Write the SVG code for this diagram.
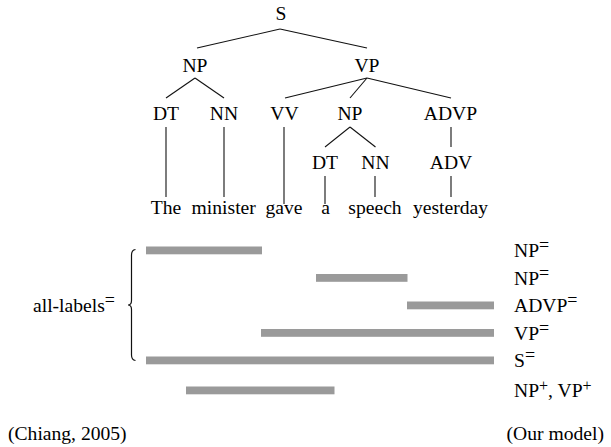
<svg xmlns="http://www.w3.org/2000/svg" width="611" height="447" viewBox="0 0 611 447" font-family="'Liberation Serif', 'Times New Roman', Times, 'DejaVu Serif', serif">
<style>
text{font-family:'Liberation Serif','Times New Roman',Times,serif;font-size:19.6px;fill:#000}
.c{text-anchor:middle}
.sup{font-size:18px}
.sp{font-size:16px}
#connectors line{stroke:#111;stroke-width:1.1}
.bar{fill:#9a9a9a}
.brace{fill:none;stroke:#111;stroke-width:1.2}
</style>
<rect width="611" height="447" fill="#fff"/>
<g id="connectors">
<line x1="280" y1="29" x2="197" y2="48"/>
<line x1="280" y1="29" x2="367" y2="48"/>
<line x1="195" y1="78" x2="166" y2="98"/>
<line x1="195" y1="78" x2="224" y2="98"/>
<line x1="367" y1="78" x2="285" y2="98"/>
<line x1="367" y1="78" x2="350" y2="98"/>
<line x1="367" y1="78" x2="451" y2="98"/>
<line x1="166" y1="127" x2="166" y2="197"/>
<line x1="224" y1="127" x2="224" y2="197"/>
<line x1="284" y1="127" x2="284" y2="204"/>
<line x1="350" y1="127" x2="325" y2="147"/>
<line x1="350" y1="127" x2="375.5" y2="147"/>
<line x1="451" y1="127" x2="451" y2="147"/>
<line x1="325" y1="176" x2="325" y2="204"/>
<line x1="375" y1="176" x2="375" y2="197"/>
<line x1="451" y1="176" x2="451" y2="197"/>
</g>
<g id="S"><text class="c" x="281" y="20">S</text></g>
<g id="NP1"><text class="c" x="195" y="72">NP</text></g>
<g id="VP"><text class="c" x="367" y="72">VP</text></g>
<g id="DT1"><text class="c" x="166" y="120">DT</text></g>
<g id="NN1"><text class="c" x="224" y="120">NN</text></g>
<g id="VV"><text class="c" x="284.5" y="120">VV</text></g>
<g id="NP2"><text class="c" x="350" y="120">NP</text></g>
<g id="ADVP"><text class="c" x="450.5" y="120">ADVP</text></g>
<g id="DT2"><text class="c" x="325" y="169">DT</text></g>
<g id="NN2"><text class="c" x="375.5" y="169">NN</text></g>
<g id="ADV"><text class="c" x="451" y="169">ADV</text></g>
<g id="w-the"><text class="c" x="166" y="214">The</text></g>
<g id="w-minister"><text class="c" x="223.7" y="214">minister</text></g>
<g id="w-gave"><text class="c" x="284" y="214">gave</text></g>
<g id="w-a"><text class="c" x="325.5" y="214">a</text></g>
<g id="w-speech"><text class="c" x="375" y="214">speech</text></g>
<g id="w-yesterday"><text class="c" x="450.5" y="214">yesterday</text></g>
<g id="spans">
<rect class="bar" x="146" y="246.5" width="116" height="7.8"/>
<rect class="bar" x="316" y="274" width="91.5" height="7.8"/>
<rect class="bar" x="407" y="301.5" width="87" height="7.8"/>
<rect class="bar" x="261" y="329" width="233" height="7.8"/>
<rect class="bar" x="146" y="356.5" width="348" height="7.8"/>
<rect class="bar" x="186" y="386.5" width="148.5" height="7.8"/>
</g>
<g id="labels">
<text x="514" y="257">NP<tspan class="sup" dy="-6">=</tspan></text>
<text x="514" y="285">NP<tspan class="sup" dy="-6">=</tspan></text>
<text x="514" y="312">ADVP<tspan class="sup" dy="-6">=</tspan></text>
<text x="514" y="340">VP<tspan class="sup" dy="-6">=</tspan></text>
<text x="514" y="367">S<tspan class="sup" dy="-6">=</tspan></text>
<text x="514" y="397">NP<tspan class="sp" dy="-6">+</tspan><tspan dy="6">, VP</tspan><tspan class="sp" dy="-6">+</tspan></text>
</g>
<g id="all-labels">
<text x="33" y="312">all-labels<tspan class="sup" dy="-6">=</tspan></text>
<path class="brace" d="M135.5,249.5 Q131.5,250 131.5,255 L131.5,300.5 Q131.5,305 128,305 Q131.5,305 131.5,309.5 L131.5,355 Q131.5,360 135.5,360.5"/>
</g>
<g id="captions">
<text x="8" y="440">(Chiang, 2005)</text>
<text x="604" y="440" text-anchor="end">(Our model)</text>
</g>
</svg>
